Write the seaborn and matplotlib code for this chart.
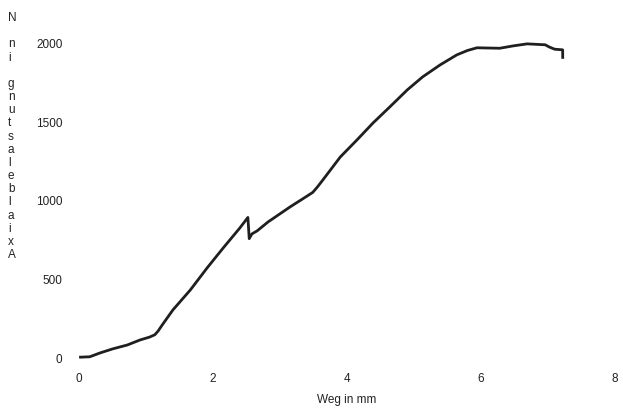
import pandas as pd
import seaborn as sns
import matplotlib.pyplot as plt

# Weg (mm) und Axialbelastung (N)
weg = [0.0, 0.16, 0.31, 0.50, 0.72, 0.91, 1.05, 1.13, 1.18, 1.24, 1.31,
       1.40, 1.66, 1.91, 2.15, 2.40, 2.52, 2.54, 2.58, 2.66, 2.82, 3.15,
       3.40, 3.49, 3.56, 3.64, 3.90, 4.15, 4.39, 4.64, 4.90, 5.13, 5.39,
       5.64, 5.80, 5.94, 6.28, 6.48, 6.69, 6.96, 7.02, 7.10, 7.22, 7.221]
last = [5, 8, 32, 58, 83, 115, 133, 148, 172, 210, 252,
        306, 433, 573, 700, 828, 895, 760, 790, 810, 866, 962,
        1030, 1055, 1090, 1134, 1280, 1389, 1497, 1599, 1707, 1790, 1866,
        1930, 1958, 1975, 1972, 1987, 2000, 1994, 1980, 1966, 1962, 1905]

x_ticks = [0, 2, 4, 6, 8]
y_ticks = [0, 500, 1000, 1500, 2000]

sns.set_theme(style='white')
plt.rcParams['font.family'] = ['Liberation Sans', 'DejaVu Sans']

df = pd.DataFrame({'Weg': weg, 'Last': last})

fig = plt.figure(figsize=(6.23, 4.08), dpi=100)
ax = fig.add_axes([0.127, 0.1225, 0.86, 0.77])

sns.lineplot(
    data=df, x='Weg', y='Last', sort=False, estimator=None,
    color='#1f1f1f', lw=2.0, ax=ax, clip_on=False,
    solid_joinstyle='round', solid_capstyle='butt'
)

ax.set_xlim(0, 8)
ax.set_ylim(0, 2000)
ax.set_xticks(x_ticks)
ax.set_yticks(y_ticks)
ax.tick_params(axis='x', length=0, pad=11, labelsize=8.5, colors='#222222')
ax.tick_params(axis='y', length=0, pad=12, labelsize=8.5, colors='#222222')
sns.despine(ax=ax, left=True, bottom=True)

ax.set_xlabel('Weg in mm', fontsize=8.5, color='#222222', labelpad=6)
ax.set_ylabel('')

# stacked y label, letters upright, read bottom to top
label = 'Axialbelastung in N'
stacked = '\n'.join(label[::-1])
fig.text(8 / 623, 1 - 12 / 408, stacked, fontsize=8.5, color='#222222',
         ha='left', va='top', linespacing=1.13)

fig.savefig('out.png', dpi=100)
